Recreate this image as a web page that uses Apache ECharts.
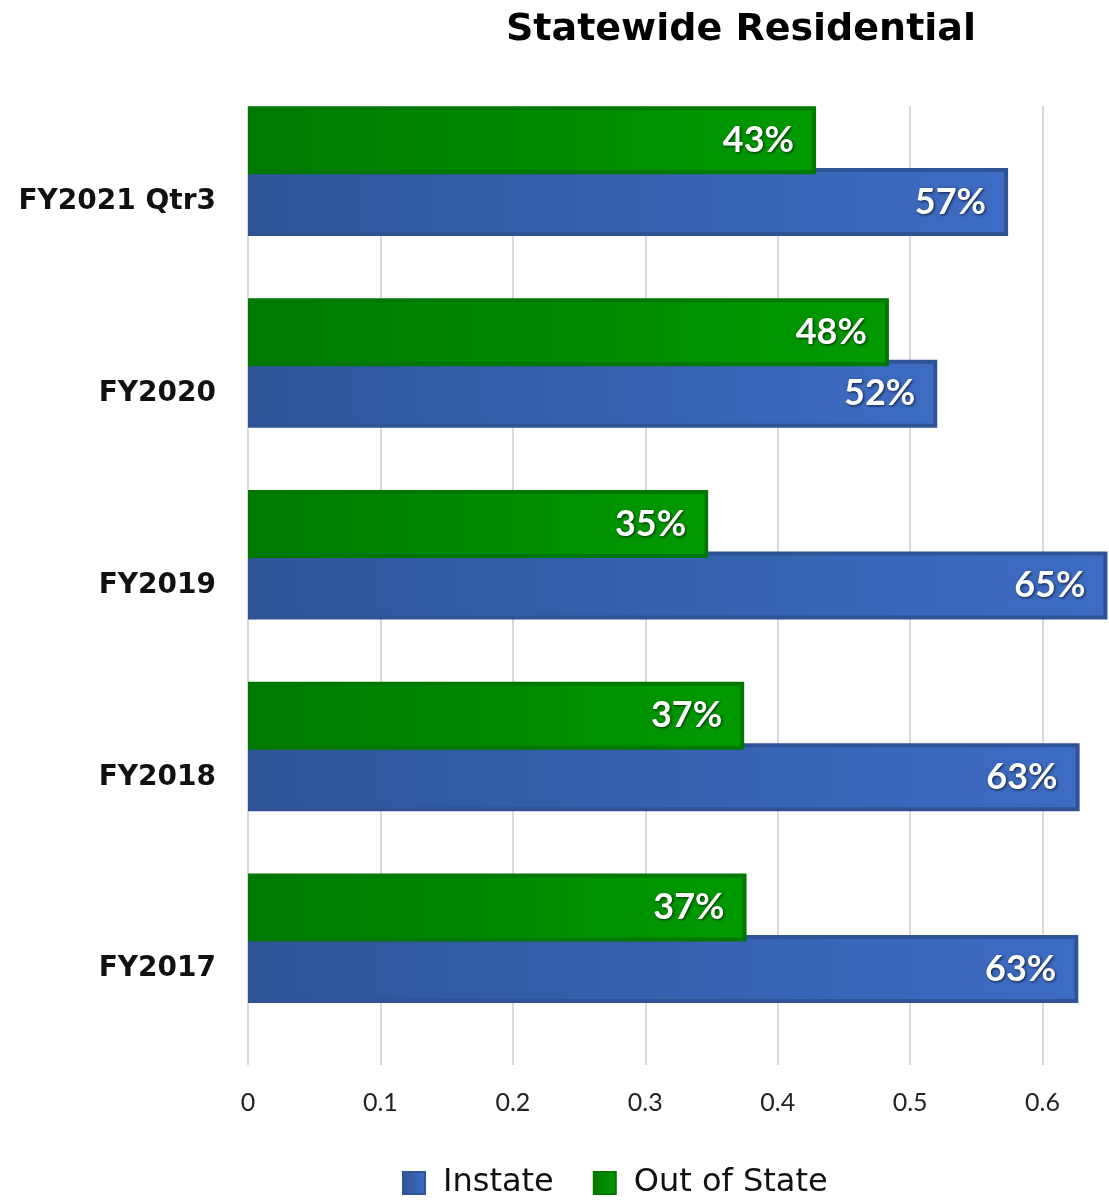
<!DOCTYPE html>
<html><head><meta charset="utf-8">
<script src="https://cdn.jsdelivr.net/npm/echarts@6/dist/echarts.min.js"></script>
<style>html,body{margin:0;padding:0;background:#fff;overflow:hidden;width:1109px;height:1201px}#c{width:1122px;height:1201px}</style>
</head><body><div id="c"></div>
<script>
const categories = ['FY2021 Qtr3', 'FY2020', 'FY2019', 'FY2018', 'FY2017'];
const instate = [0.574, 0.5205, 0.649, 0.628, 0.627];
const outOfState = [0.429, 0.484, 0.3475, 0.3747, 0.3765];
const instateLabels = ['57%', '52%', '65%', '63%', '63%'];
const outOfStateLabels = ['43%', '48%', '35%', '37%', '37%'];
const xTicks = [0, 0.1, 0.2, 0.3, 0.4, 0.5, 0.6];

const chart = echarts.init(document.getElementById('c'));
const pctFont = 'Lato, "Open Sans", sans-serif';
const txtFont = '"DejaVu Sans", sans-serif';
function grad(c1, c2) {
  return new echarts.graphic.LinearGradient(0, 0, 1, 0, [{offset: 0, color: c1}, {offset: 1, color: c2}]);
}
function labelCfg(texts) {
  return {
    show: true, position: 'insideRight', distance: 22,
    color: '#fff', fontFamily: pctFont, fontWeight: 'bold', fontSize: 36,
    textShadowColor: 'rgba(0,0,0,0.7)', textShadowBlur: 3, textShadowOffsetX: 1, textShadowOffsetY: 1,
    formatter: p => texts[p.dataIndex]
  };
}
chart.setOption({
  animation: false,
  title: {text: 'Statewide Residential', left: 736, textAlign: 'center', top: 6,
    textStyle: {fontFamily: txtFont, fontWeight: 'bold', fontSize: 38, color: '#000'}},
  legend: {
    data: ['Instate', 'Out of State'], top: 1162, left: 397, icon: 'rect',
    itemWidth: 22, itemHeight: 22, itemGap: 39,
    textStyle: {fontFamily: txtFont, fontSize: 32, color: '#111', padding: [0, 0, 0, 13]}
  },
  grid: {left: 248, right: 0, top: 106, bottom: 136, containLabel: false},
  xAxis: {
    type: 'value', min: 0, max: 0.66, interval: 0.1,
    axisLine: {show: false}, axisTick: {show: false},
    splitLine: {show: true, lineStyle: {color: '#d9d9d9', width: 2}},
    axisLabel: {margin: 25, fontFamily: pctFont, fontSize: 25, color: '#222', showMaxLabel: false,
      formatter: v => xTicks.some(t => Math.abs(t - v) < 1e-6) ? String(+v.toFixed(1)) : ''}
  },
  yAxis: {
    type: 'category', data: categories, inverse: true,
    axisLine: {show: false}, axisTick: {show: false}, splitLine: {show: false},
    axisLabel: {margin: 32, fontFamily: txtFont, fontWeight: 'bold', fontSize: 28, color: '#111'}
  },
  series: [
    {name: 'Out of State', type: 'bar', data: outOfState, barWidth: 68, barGap: '-9.5%', z: 3,
      itemStyle: {color: grad('#007a00', '#009a00'), borderColor: '#007800', borderWidth: 4},
      label: labelCfg(outOfStateLabels)},
    {name: 'Instate', type: 'bar', data: instate, barWidth: 68, barGap: '-9.5%', z: 2,
      itemStyle: {color: grad('#2f5597', '#3d6cc4'), borderColor: '#2f5496', borderWidth: 4},
      label: labelCfg(instateLabels)},
    {name: 'spacer', type: 'bar', data: categories.map(() => '-'), barWidth: 68, barGap: '-9.5%', silent: true}
  ]
});
</script></body></html>
